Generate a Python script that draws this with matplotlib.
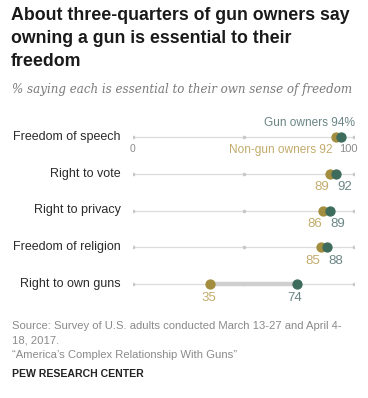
import matplotlib.pyplot as plt

categories = ["Freedom of speech", "Right to vote", "Right to privacy",
              "Freedom of religion", "Right to own guns"]
gun_owners = [94, 92, 89, 88, 74]
non_gun_owners = [92, 89, 86, 85, 35]

GUN = "#3d6b5c"
NONGUN = "#a38d3f"
GUN_TXT = "#6b8585"
NONGUN_TXT = "#c2ab6c"
GRAY = "#8c8c8c"

W, H = 368, 398
fig = plt.figure(figsize=(W / 100, H / 100), dpi=100)
fig.patch.set_facecolor("white")


def fx(px):
    return px / W


def fy(py):
    return 1 - py / H


# title / subtitle
fig.text(fx(11), fy(7), "About three-quarters of gun owners say\nowning a gun is essential to their\nfreedom",
         fontsize=12.8, fontweight="bold", family="Liberation Sans", color="#1a1a1a",
         ha="left", va="top", linespacing=1.45)
fig.text(fx(12), fy(93), "% saying each is essential to their own sense of freedom",
         fontsize=8.6, style="italic", family="DejaVu Serif", color="#7a7a7a",
         ha="left", va="baseline")

# dot plot axes: x 0..100 maps to px 133..354, rows 37px apart starting at 137
row_h = 36.75
top = 137 - row_h / 2
bottom = 284 + row_h / 2
ax = fig.add_axes([fx(133), fy(bottom), fx(354) - fx(133), (bottom - top) / H])
ax.set_xlim(0, 100)
ax.set_ylim(len(categories) - 0.5, -0.5)
ax.axis("off")

for i, (cat, g, n) in enumerate(zip(categories, gun_owners, non_gun_owners)):
    ax.plot([0, 100], [i, i], color="#dcdcdc", lw=0.9, zorder=1)
    ax.plot([0, 50, 100], [i, i, i], ls="none", marker="o", ms=1.6,
            color="#c8c8c8", zorder=1)
    ax.plot([n, g], [i, i], color="#cfcfcf", lw=3.2, zorder=2, solid_capstyle="butt")
    ax.plot(n, i, "o", ms=6.4, color=NONGUN, zorder=3)
    ax.plot(g, i, "o", ms=6.4, color=GUN, zorder=4)
    ax.annotate(cat, xy=(0, i), xytext=(-9, 0), textcoords="offset points",
                ha="right", va="center", fontsize=9, family="Liberation Sans",
                color="#2b2b2b")
    if i == 0:
        ax.annotate(f"Gun owners {g}%", xy=(100, i), xytext=(1, 6),
                    textcoords="offset points", ha="right", va="bottom",
                    fontsize=8.6, family="Liberation Sans", color=GUN_TXT)
        ax.annotate(f"Non-gun owners {n}", xy=(n, i), xytext=(-3, -5),
                    textcoords="offset points", ha="right", va="top",
                    fontsize=8.6, family="Liberation Sans", color=NONGUN_TXT)
        ax.annotate("100", xy=(100, i), xytext=(-4, -5),
                    textcoords="offset points", ha="center", va="top",
                    fontsize=8, family="Liberation Sans", color=GRAY)
        ax.annotate("0", xy=(0, i), xytext=(0, -5),
                    textcoords="offset points", ha="center", va="top",
                    fontsize=7.5, family="Liberation Sans", color=GRAY)
    else:
        gap = g - n
        off = 1 if gap > 10 else 6
        ax.annotate(f"{n}", xy=(n, i), xytext=(-off, -5.5),
                    textcoords="offset points", ha="center", va="top",
                    fontsize=9.5, family="Liberation Sans", color=NONGUN_TXT)
        ax.annotate(f"{g}", xy=(g, i), xytext=(off if gap <= 10 else -1, -5.5),
                    textcoords="offset points", ha="center", va="top",
                    fontsize=9.5, family="Liberation Sans", color=GUN_TXT)

# footer
fig.text(fx(12), fy(321),
         "Source: Survey of U.S. adults conducted March 13-27 and April 4-\n18, 2017.\n"
         "\u201cAmerica\u2019s Complex Relationship With Guns\u201d",
         fontsize=8.1, family="Liberation Sans", color="#8a8a8a",
         ha="left", va="top", linespacing=1.55)
fig.text(fx(12), fy(377), "PEW RESEARCH CENTER", fontsize=7.6, fontweight="bold",
         family="Liberation Sans", color="#222222", ha="left", va="baseline")

fig.savefig("out.png", dpi=100)
